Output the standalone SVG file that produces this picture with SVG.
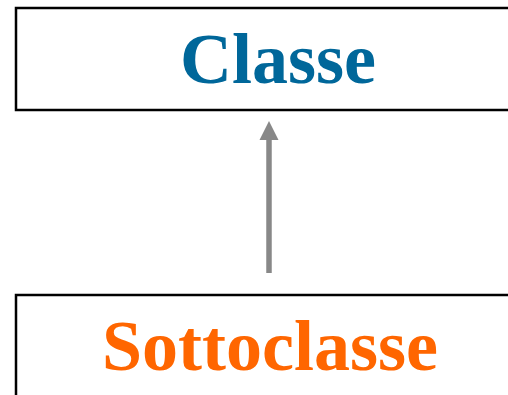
<svg xmlns="http://www.w3.org/2000/svg" width="508" height="395" viewBox="0 0 508 395">
<style>
.box{fill:#fff;stroke:#000;stroke-width:2.5}
.lbl{font-family:"Liberation Serif","DejaVu Serif",serif;font-weight:bold;font-size:72px;text-anchor:middle}
.conn{stroke:#888;stroke-width:5.5;fill:none}
</style>
<defs>
<marker id="ah" markerUnits="userSpaceOnUse" markerWidth="19" markerHeight="19" refX="9.5" refY="1" viewBox="0 0 19 19" orient="auto" overflow="visible">
<path d="M0,19 L9.5,0 L19,19 Z" fill="#888" transform="rotate(90 9.5 9.5)"/>
</marker>
</defs>
<rect width="508" height="395" fill="#fff"/>
<g id="classe">
<rect class="box" x="16" y="8" width="520" height="102"/>
<text class="lbl" x="278" y="83" fill="#00679a">Classe</text>
</g>
<g id="sottoclasse">
<rect class="box" x="16" y="295" width="520" height="120"/>
<text class="lbl" x="270" y="370" fill="#ff6600">Sottoclasse</text>
</g>
<g id="connectors">
<line class="conn" x1="269" y1="273" x2="269" y2="139"/>
<path d="M259.5,140 L269,121 L278.5,140 Z" fill="#888"/>
</g>
</svg>
